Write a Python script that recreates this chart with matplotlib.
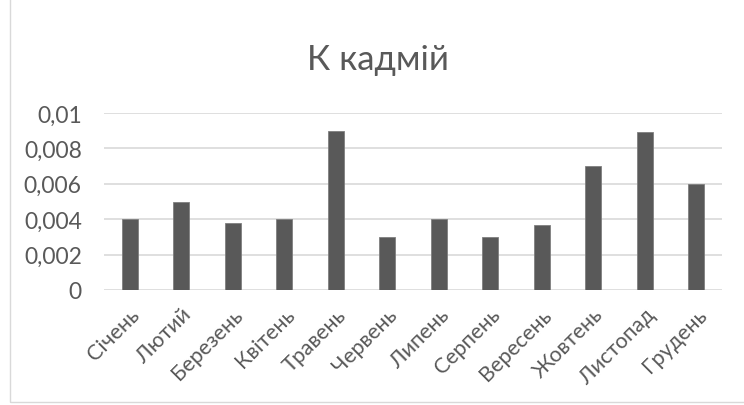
import matplotlib
matplotlib.use("Agg")
import matplotlib.pyplot as plt
from matplotlib.patches import Rectangle

months = ["Січень", "Лютий", "Березень", "Квітень", "Травень", "Червень",
          "Липень", "Серпень", "Вересень", "Жовтень", "Листопад", "Грудень"]
values = [0.004, 0.005, 0.0038, 0.004, 0.009, 0.003,
          0.004, 0.003, 0.0037, 0.007, 0.0089, 0.006]
yticks = [0, 0.002, 0.004, 0.006, 0.008, 0.01]
ytick_labels = ["0", "0,002", "0,004", "0,006", "0,008", "0,01"]
title = "К кадмій"

plt.rcParams['font.family'] = ['Lato', 'DejaVu Sans']
text_color = "#595959"

W, H = 744, 406
fig = plt.figure(figsize=(W / 100, H / 100), dpi=100)

# chart area border
fig.patches.append(Rectangle((10 / W, 3 / H), 1.2, 1.2, transform=fig.transFigure,
                             fill=False, edgecolor="#d9d9d9", linewidth=1.0))

left, right, top, bottom = 104, 722, 114, 291
ax = fig.add_axes([left / W, 1 - bottom / H, (right - left) / W, (bottom - top) / H])

x = range(len(months))
ax.bar(x, values, width=0.31, color="#595959", edgecolor="#7f7f7f", linewidth=0.6, zorder=3)
ax.set_xlim(-0.5, len(months) - 0.5)
ax.set_ylim(0, 0.01)

ax.set_yticks(yticks)
ax.set_yticklabels(ytick_labels, fontsize=16.5, color=text_color)
ax.set_xticks(list(x))
ax.set_xticklabels(months, rotation=45, ha="right", rotation_mode="anchor",
                   fontsize=15.5, color=text_color)
ax.tick_params(axis="both", length=0)
ax.tick_params(axis="y", pad=16)
ax.tick_params(axis="x", pad=10)

for s in ax.spines.values():
    s.set_visible(False)
ax.grid(axis="y", color="#d9d9d9", linewidth=1.2, zorder=0)
ax.set_axisbelow(True)

fig.text(378 / W, 1 - 60 / H, title, ha="center", va="center",
         fontsize=25, color=text_color)

fig.savefig("out.png", dpi=100)
